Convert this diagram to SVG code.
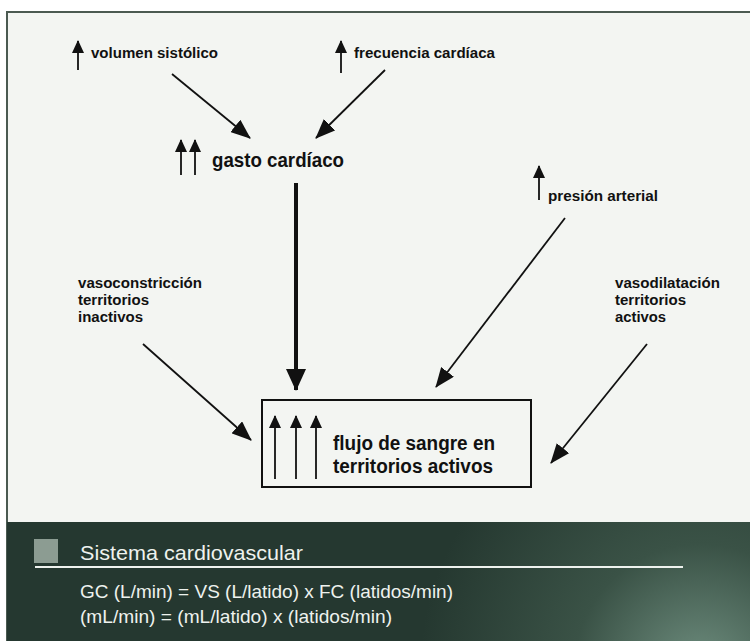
<svg xmlns="http://www.w3.org/2000/svg" width="750" height="641" viewBox="0 0 750 641">
<defs>
<style>
.lbl{font-family:"Liberation Sans",Arial,sans-serif;font-weight:bold;fill:#111;}
.s{font-size:14.5px;}
.b{font-size:21px;}
.bx{font-size:19.5px;}
.ln{stroke:#111;stroke-width:1.8;fill:none;}
.band{font-family:"Liberation Sans",Arial,sans-serif;fill:#eef2ee;}
</style>
<marker id="ah" markerUnits="userSpaceOnUse" markerWidth="20" markerHeight="16" refX="19" refY="8" orient="auto"><path d="M0,0 L20,8 L0,16 z" fill="#111"/></marker>
<marker id="ahb" markerUnits="userSpaceOnUse" markerWidth="22" markerHeight="20" refX="21" refY="10" orient="auto"><path d="M0,0 L22,10 L0,20 z" fill="#111"/></marker>
<marker id="up" markerUnits="userSpaceOnUse" markerWidth="13" markerHeight="12" refX="12" refY="6" orient="auto"><path d="M0,0 L13,6 L0,12 z" fill="#111"/></marker>
<radialGradient id="glow" cx="700" cy="670" r="280" gradientUnits="userSpaceOnUse">
<stop offset="0" stop-color="#6e8d7e"/>
<stop offset="0.45" stop-color="#3a5246"/>
<stop offset="1" stop-color="#253830"/>
</radialGradient>
</defs>
<rect x="0" y="0" width="750" height="641" fill="#ffffff"/>
<rect x="7" y="12" width="750" height="640" fill="#f3f5f2" stroke="#4b5a51" stroke-width="2"/>
<rect x="7" y="522" width="743" height="119" fill="url(#glow)"/>

<g id="connectors">
<line class="ln" x1="172" y1="74" x2="250" y2="138" marker-end="url(#ah)"/>
<line class="ln" x1="385" y1="70" x2="316" y2="138" marker-end="url(#ah)"/>
<line x1="296" y1="183" x2="296" y2="390" stroke="#111" stroke-width="4" marker-end="url(#ahb)"/>
<line class="ln" x1="565" y1="218" x2="436" y2="387" marker-end="url(#ah)"/>
<line class="ln" x1="143" y1="344" x2="251" y2="440" marker-end="url(#ah)"/>
<line class="ln" x1="647" y1="344" x2="551" y2="463" marker-end="url(#ah)"/>
</g>

<g id="volumen">
<line class="ln" x1="78" y1="70" x2="78" y2="41" marker-end="url(#up)"/>
<text class="lbl s" x="91" y="58" textLength="127" lengthAdjust="spacingAndGlyphs">volumen sistólico</text>
</g>
<g id="frecuencia">
<line class="ln" x1="341" y1="73" x2="341" y2="41" marker-end="url(#up)"/>
<text class="lbl s" x="354" y="58" textLength="141" lengthAdjust="spacingAndGlyphs">frecuencia cardíaca</text>
</g>
<g id="gasto">
<line class="ln" x1="181" y1="175" x2="181" y2="140" marker-end="url(#up)"/>
<line class="ln" x1="195" y1="175" x2="195" y2="140" marker-end="url(#up)"/>
<text class="lbl b" x="212" y="167" textLength="132" lengthAdjust="spacingAndGlyphs">gasto cardíaco</text>
</g>
<g id="presion">
<line class="ln" x1="539" y1="200" x2="539" y2="166" marker-end="url(#up)"/>
<text class="lbl s" x="548" y="201" textLength="110" lengthAdjust="spacingAndGlyphs">presión arterial</text>
</g>
<g id="vasoconstriccion">
<text class="lbl s" x="78" y="288" textLength="124" lengthAdjust="spacingAndGlyphs">vasoconstricción</text>
<text class="lbl s" x="78" y="305" textLength="71" lengthAdjust="spacingAndGlyphs">territorios</text>
<text class="lbl s" x="78" y="322" textLength="65" lengthAdjust="spacingAndGlyphs">inactivos</text>
</g>
<g id="vasodilatacion">
<text class="lbl s" x="615" y="288" textLength="105" lengthAdjust="spacingAndGlyphs">vasodilatación</text>
<text class="lbl s" x="615" y="305" textLength="71" lengthAdjust="spacingAndGlyphs">territorios</text>
<text class="lbl s" x="615" y="322" textLength="51" lengthAdjust="spacingAndGlyphs">activos</text>
</g>
<g id="flujo">
<rect x="262" y="400" width="269" height="87" fill="none" stroke="#111" stroke-width="2"/>
<line class="ln" x1="275" y1="479" x2="275" y2="416" marker-end="url(#up)"/>
<line class="ln" x1="296" y1="479" x2="296" y2="416" marker-end="url(#up)"/>
<line class="ln" x1="316" y1="479" x2="316" y2="416" marker-end="url(#up)"/>
<text class="lbl bx" x="333" y="450" textLength="162" lengthAdjust="spacingAndGlyphs">flujo de sangre en</text>
<text class="lbl bx" x="333" y="473" textLength="160" lengthAdjust="spacingAndGlyphs">territorios activos</text>
</g>

<g id="footer">
<rect x="34" y="539" width="24" height="24" fill="#8c9c92"/>
<text class="band" x="80" y="560" font-size="21" textLength="223" lengthAdjust="spacingAndGlyphs">Sistema cardiovascular</text>
<line x1="35" y1="567" x2="683" y2="567" stroke="#eef2ee" stroke-width="2"/>
<text class="band" x="80" y="598" font-size="18.5" textLength="373" lengthAdjust="spacingAndGlyphs">GC (L/min) = VS (L/latido) x FC (latidos/min)</text>
<text class="band" x="80" y="623" font-size="18.5" textLength="312" lengthAdjust="spacingAndGlyphs">(mL/min) = (mL/latido) x (latidos/min)</text>
</g>
</svg>
